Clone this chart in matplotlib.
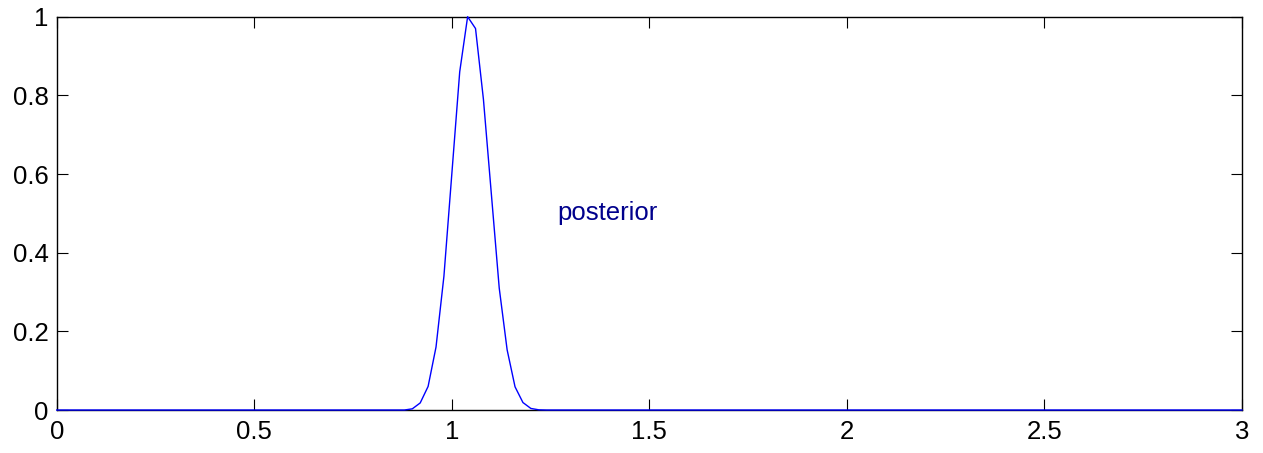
import numpy as np
import matplotlib
matplotlib.use("Agg")
import matplotlib.pyplot as plt

plt.rcParams['font.family'] = ['Liberation Sans', 'DejaVu Sans']

# grille en x (pas de 0.02) et valeurs lues sur le pic ; ailleurs la courbe est a 0
x = np.linspace(0, 3, 151)
peak_x = [0.90, 0.92, 0.94, 0.96, 0.98, 1.00, 1.02, 1.04, 1.06,
          1.08, 1.10, 1.12, 1.14, 1.16, 1.18, 1.20, 1.22]
peak_y = [0.003, 0.018, 0.06, 0.16, 0.34, 0.60, 0.86, 1.0, 0.97,
          0.79, 0.55, 0.31, 0.153, 0.059, 0.019, 0.004, 0.0005]

posterior = np.zeros_like(x)
for px, py in zip(peak_x, peak_y):
    posterior[np.argmin(np.abs(x - px))] = py

xticks = [0, 0.5, 1, 1.5, 2, 2.5, 3]
xticklabels = ['0', '0.5', '1', '1.5', '2', '2.5', '3']
yticks = [0, 0.2, 0.4, 0.6, 0.8, 1]
yticklabels = ['0', '0.2', '0.4', '0.6', '0.8', '1']

fig = plt.figure(figsize=(12.63, 4.53), dpi=100)
ax = fig.add_axes([0.0449, 0.0949, 0.9385, 0.8682])

# la courbe passe par-dessus l'axe du bas (comme dans l'original)
ax.plot(x, posterior, color=(0, 0, 1), lw=1.0, zorder=3, clip_on=False)
ax.text(1.267, 0.5, 'posterior', color=(0, 0, 0.55), fontsize=18.5,
        ha='left', va='center')

ax.set_xlim(0, 3)
ax.set_ylim(0, 1)
ax.set_xticks(xticks)
ax.set_xticklabels(xticklabels)
ax.set_yticks(yticks)
ax.set_yticklabels(yticklabels)
ax.tick_params(direction='in', length=8, width=0.8, labelsize=18.5,
               top=True, right=True)
ax.tick_params(axis='x', pad=7)
ax.tick_params(axis='y', pad=6)
for s in ax.spines.values():
    s.set_linewidth(1.0)

fig.savefig('out.png', dpi=100)
